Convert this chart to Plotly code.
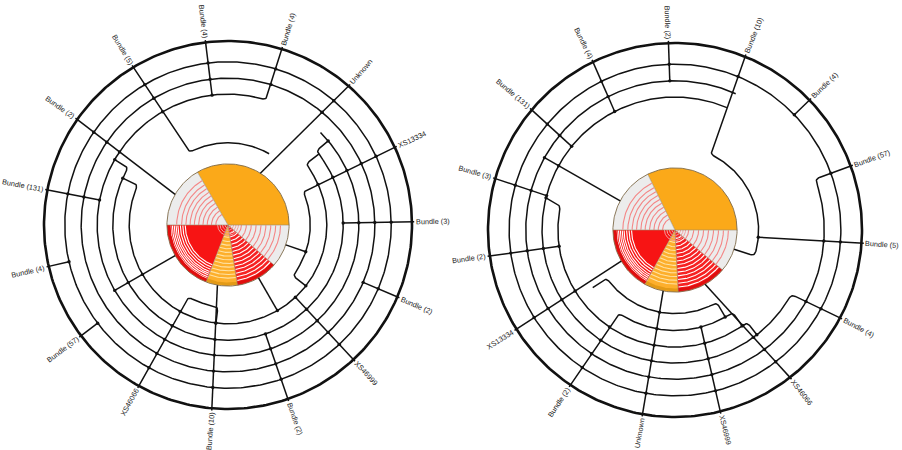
import numpy as np
import plotly.graph_objects as go
from plotly.subplots import make_subplots

# ---------------- leaves (labels + angle in degrees, counter-clockwise from east) ----------------
left_labels = ["Bundle (4)", "Bundle (4)", "Unknown", "XS13334", "Bundle (3)", "Bundle (2)",
               "XS46999", "Bundle (2)", "Bundle (10)", "XS46066", "Bundle (57)", "Bundle (4)",
               "Bundle (131)", "Bundle (2)", "Bundle (5)"]
left_angles = [97, 73, 49, 25, 1, -23, -47, -71, -95, -119, -143, -167, 169, 145, 121]

right_labels = ["Bundle (2)", "Bundle (10)", "Bundle (4)", "Bundle (57)", "Bundle (5)", "Bundle (4)",
                "XS46066", "XS46999", "Unknown", "Bundle (2)", "XS13334", "Bundle (2)",
                "Bundle (3)", "Bundle (131)", "Bundle (4)"]
right_angles = [92, 68, 44, 20, -4, -28, -52, -76, -100, -124, -148, -172, 164, 140, 116]

# ring levels as a fraction of the outer circle
ring_radius = {"L": 1.012, "R": 1.0, "A": 0.887, "B": 0.798, "C": 0.711,
               "D": 0.626, "E": 0.537, "F": 0.447, "P": 0.332}

# tree edges: (angle, ring) vertices; equal rings -> arc, otherwise straight line
left_paths = [
    [(0, "A"), (360, "A")],
    [(0, "B"), (360, "B")],
    [(73, "L"), (73, "C"), (405, "C")],
    [(150, "C"), (150, "D"), (400, "D"), (400, "C")],
    [(156, "D"), (156, "E"), (398, "E"), (398, "D")],
    [(121, "L"), (118, "F"), (60, "F")],
    [(25, "L"), (24, "F"), (-38, "F"), (-38, "E")],
    [(-119, "L"), (-119, "F"), (-97, "F"), (-97, "E")],
    [(97, "L"), (97, "C")],
    [(49, "L"), (58, "P")],
    [(1, "L"), (1, "D")],
    [(-23, "L"), (-23, "B")],
    [(-47, "L"), (-47, "E")],
    [(-71, "L"), (-71, "D")],
    [(-95, "L"), (-100, "P")],
    [(-143, "L"), (-143, "A")],
    [(-167, "L"), (-167, "A")],
    [(169, "L"), (169, "C")],
    [(145, "L"), (150, "P")],
    [(210, "P"), (210, "C")],
    [(-60, "P"), (-60, "E")],
    [(-19, "P"), (-19, "F")],
]

right_paths = [
    [(0, "A"), (360, "A")],
    [(66, "B"), (380, "B"), (380, "L")],
    [(67, "C"), (331, "C"), (332, "L")],
    [(166, "C"), (168, "D"), (308, "D"), (308, "C")],
    [(236, "L"), (236, "E"), (305, "E"), (305, "D")],
    [(215, "E"), (215, "F"), (300, "F"), (300, "E")],
    [(68, "L"), (65, "F"), (-18, "F"), (-18, "P")],
    [(-4, "L"), (-5, "F")],
    [(92, "L"), (92, "B")],
    [(44, "L"), (44, "A")],
    [(-52, "L"), (-61, "P")],
    [(-76, "L"), (-75, "E")],
    [(-100, "L"), (-101, "P")],
    [(-148, "L"), (-150, "P")],
    [(-172, "L"), (-172, "D")],
    [(164, "L"), (165, "C")],
    [(140, "L"), (141, "C")],
    [(116, "L"), (117, "C")],
    [(152, "P"), (151, "B")],
]

# central pie: slice boundaries (degrees) and fills
left_pie_bounds = [0, 120, 180, 249, 279, 319, 360]
right_pie_bounds = [0, 116, 180, 241, 273, 320, 360]
pie_fill = ["#FBA919", "#ECECEC", "#F71414", "#FDAF2C", "#F62222", "#ECECEC"]
stripe_color = [None, "#F48686", "#FFFFFF", "#FFE2A4", "#FFFFFF", "#F48686"]
stripe_radii = [
    [],
    [0.2, 0.27, 0.34, 0.41, 0.48, 0.55, 0.62, 0.69, 0.76, 0.84],
    [0.7, 0.74, 0.78, 0.82, 0.85, 0.88, 0.91, 0.94],
    [0.2, 0.27, 0.33, 0.39, 0.45, 0.51, 0.57, 0.63, 0.69, 0.75, 0.81, 0.87],
    [0.14, 0.2, 0.26, 0.32, 0.38, 0.44, 0.5, 0.56, 0.62, 0.68, 0.74, 0.8, 0.86, 0.92],
    [0.22, 0.3, 0.38, 0.46, 0.54, 0.62, 0.7, 0.78, 0.86],
]
rim_color = [None, None, "#E00E0E", "#E39A16", "#E00E0E", None]
core_radii = [0.05, 0.09, 0.13, 0.17]

# Arial-like advance widths (em) for label sizing
char_w = {"B": .667, "u": .556, "n": .556, "d": .556, "l": .222, "e": .556, " ": .278,
          "(": .333, ")": .333, "X": .667, "S": .667, "U": .722, "k": .5, "o": .556, "w": .722}
FONT = 7.3


def pol(a, r):
    t = np.radians(a)
    return r * np.cos(t), r * np.sin(t)


def segment(p, q):
    (a0, k0), (a1, k1) = p, q
    if k0 == k1:
        n = int(abs(a1 - a0) / 0.75) + 2
        a = np.linspace(a0, a1, n)
        x, y = pol(a, ring_radius[k0])
        return np.column_stack([x, y])
    return np.array([pol(a0, ring_radius[k0]), pol(a1, ring_radius[k1])])


def plen(poly):
    d = np.diff(poly, axis=0)
    return float(np.hypot(d[:, 0], d[:, 1]).sum())


def cut_start(poly, dist):
    d = np.diff(poly, axis=0)
    L = np.hypot(d[:, 0], d[:, 1])
    cum = np.cumsum(L)
    i = int(np.searchsorted(cum, dist))
    if i >= len(L):
        return poly[-1:]
    prev = cum[i - 1] if i > 0 else 0.0
    t = (dist - prev) / L[i] if L[i] > 0 else 0
    p = poly[i] + t * d[i]
    return np.vstack([p, poly[i + 1:]])


def cut_end(poly, dist):
    return cut_start(poly[::-1], dist)[::-1]


def render(path, rad=0.024):
    """Polyline for a path with rounded corners at every inner vertex."""
    segs = [segment(path[i], path[i + 1]) for i in range(len(path) - 1)]
    ds = [min(rad, 0.45 * plen(segs[i - 1]), 0.45 * plen(segs[i])) for i in range(1, len(segs))]
    trimmed = []
    for i, s in enumerate(segs):
        t = s
        if i > 0:
            t = cut_start(t, ds[i - 1])
        if i < len(segs) - 1:
            t = cut_end(t, ds[i])
        trimmed.append(t)
    pts = [trimmed[0]]
    tt = np.linspace(0, 1, 9)[1:-1, None]
    for i in range(1, len(segs)):
        p0, p2, c = trimmed[i - 1][-1], trimmed[i][0], segs[i][0]
        pts.append((1 - tt) ** 2 * p0 + 2 * (1 - tt) * tt * c + tt ** 2 * p2)
        pts.append(trimmed[i])
    return np.vstack(pts)


def junction_dots(paths):
    """Points where a straight edge crosses or meets an arc of another ring."""
    arcs, spokes = [], []
    for path in paths:
        for p, q in zip(path[:-1], path[1:]):
            if p[1] == q[1]:
                arcs.append((p[1], min(p[0], q[0]), max(p[0], q[0])))
            else:
                spokes.append((p, q))

    def covered(k, th, margin=2.5):
        for kk, lo, hi in arcs:
            if kk != k:
                continue
            if hi - lo >= 360:
                return True
            if margin <= (th - lo) % 360 <= (hi - lo) - margin:
                return True
        return False

    xs, ys = [], []
    for p, q in spokes:
        p0 = np.array(pol(p[0], ring_radius[p[1]]))
        p1 = np.array(pol(q[0], ring_radius[q[1]]))
        rs = sorted([ring_radius[p[1]], ring_radius[q[1]]])
        for k in "ABCDEF":
            r = ring_radius[k]
            if r < rs[0] - 1e-6 or r > rs[1] + 1e-6:
                continue
            dv = p1 - p0
            a = dv @ dv
            b = 2 * p0 @ dv
            c = p0 @ p0 - r * r
            disc = b * b - 4 * a * c
            if disc < 0:
                continue
            for t in ((-b - np.sqrt(disc)) / (2 * a), (-b + np.sqrt(disc)) / (2 * a)):
                if -1e-6 <= t <= 1 + 1e-6:
                    pt = p0 + t * dv
                    th = np.degrees(np.arctan2(pt[1], pt[0]))
                    if covered(k, th):
                        xs.append(pt[0])
                        ys.append(pt[1])
                    break
    return xs, ys


def text_width(s):
    return sum(char_w.get(ch, 0.556) for ch in s) * FONT


def add_chart(fig, col, labels, angles, paths, bounds, r_px):
    xa = "x" if col == 1 else "x2"
    ya = "y" if col == 1 else "y2"
    kw = dict(row=1, col=col)
    pr = ring_radius["P"]

    # pie slices
    for i in range(len(bounds) - 1):
        a = np.linspace(bounds[i], bounds[i + 1], 90)
        x, y = pol(a, pr)
        fig.add_trace(go.Scatter(x=np.r_[0, x, 0], y=np.r_[0, y, 0], fill="toself",
                                 fillcolor=pie_fill[i], mode="lines", line=dict(width=0),
                                 hoverinfo="skip"), **kw)
        if stripe_color[i]:
            sx, sy = [], []
            for f in stripe_radii[i]:
                ax, ay = pol(np.linspace(bounds[i] + 0.5, bounds[i + 1] - 0.5, 40), pr * f)
                sx += list(ax) + [None]
                sy += list(ay) + [None]
            fig.add_trace(go.Scatter(x=sx, y=sy, mode="lines",
                                     line=dict(color=stripe_color[i], width=1.1),
                                     hoverinfo="skip"), **kw)
        if rim_color[i]:
            ax, ay = pol(np.linspace(bounds[i], bounds[i + 1], 40), pr * 0.965)
            fig.add_trace(go.Scatter(x=ax, y=ay, mode="lines",
                                     line=dict(color=rim_color[i], width=3),
                                     hoverinfo="skip"), **kw)
    # small concentric rings at the pie centre
    cx, cy = [], []
    for f in core_radii:
        ax, ay = pol(np.linspace(180, 360, 60), pr * f)
        cx += list(ax) + [None]
        cy += list(ay) + [None]
    fig.add_trace(go.Scatter(x=cx, y=cy, mode="lines", line=dict(color="#F3A0A0", width=1),
                             hoverinfo="skip"), **kw)
    # slice edges and pie outline
    ex, ey = [], []
    for b in bounds[:-1]:
        x, y = pol(b, pr)
        ex += [0, x, None]
        ey += [0, y, None]
    fig.add_trace(go.Scatter(x=ex, y=ey, mode="lines", line=dict(color="#9C8A6A", width=0.6),
                             hoverinfo="skip"), **kw)
    ox, oy = pol(np.linspace(0, 360, 240), pr)
    fig.add_trace(go.Scatter(x=ox, y=oy, mode="lines", line=dict(color="#7E6A48", width=0.9),
                             hoverinfo="skip"), **kw)

    # tree edges
    tx, ty = [], []
    for path in paths:
        pts = render(path)
        tx += list(pts[:, 0]) + [None]
        ty += list(pts[:, 1]) + [None]
    fig.add_trace(go.Scatter(x=tx, y=ty, mode="lines", line=dict(color="#111111", width=1.5),
                             hoverinfo="skip"), **kw)

    # outer circle
    ox, oy = pol(np.linspace(0, 360, 361), ring_radius["R"])
    fig.add_trace(go.Scatter(x=ox, y=oy, mode="lines", line=dict(color="#111111", width=2.6),
                             hoverinfo="skip"), **kw)

    # junction dots
    dx, dy = junction_dots(paths)
    fig.add_trace(go.Scatter(x=dx, y=dy, mode="markers",
                             marker=dict(color="#111111", size=3.4), hoverinfo="skip"), **kw)

    # leaf labels, radial
    for lab, ang in zip(labels, angles):
        th = ((ang + 180) % 360) - 180
        w = text_width(lab)
        rc = 1.0 + (4 + w / 2) / r_px
        x, y = pol(th, rc)
        if -90 <= th <= 90:
            tang = -th
        else:
            tang = -(th + 180)
            tang = ((tang + 180) % 360) - 180
        fig.add_annotation(x=x, y=y, xref=xa, yref=ya, text=lab, showarrow=False,
                           textangle=tang, xanchor="center", yanchor="middle", opacity=0.99,
                           font=dict(family="Liberation Sans, Arial", size=FONT, color="#1a1a1a"))


fig = make_subplots(rows=1, cols=2, horizontal_spacing=0)

W, H = 902, 450
charts = [
    dict(col=1, labels=left_labels, angles=left_angles, paths=left_paths,
         bounds=left_pie_bounds, cx=228, cy=225, r=184),
    dict(col=2, labels=right_labels, angles=right_angles, paths=right_paths,
         bounds=right_pie_bounds, cx=675, cy=230, r=187),
]
for ch in charts:
    add_chart(fig, ch["col"], ch["labels"], ch["angles"], ch["paths"], ch["bounds"], ch["r"])

# axis windows: one data unit = outer radius in pixels, wheel centres placed in each half
half = W / 2
for ch in charts:
    x0 = 0 if ch["col"] == 1 else half
    xr = [(x0 - ch["cx"]) / ch["r"], (x0 + half - ch["cx"]) / ch["r"]]
    yr = [-(H - ch["cy"]) / ch["r"], ch["cy"] / ch["r"]]
    sx = "xaxis" if ch["col"] == 1 else "xaxis2"
    sy = "yaxis" if ch["col"] == 1 else "yaxis2"
    fig.update_layout(**{
        sx: dict(domain=[x0 / W, (x0 + half) / W], range=xr, visible=False, fixedrange=True),
        sy: dict(domain=[0, 1], range=yr, visible=False, fixedrange=True),
    })

fig.update_layout(width=W, height=H, margin=dict(l=0, r=0, t=0, b=0),
                  paper_bgcolor="white", plot_bgcolor="white", showlegend=False)
fig.write_html("out.html")
